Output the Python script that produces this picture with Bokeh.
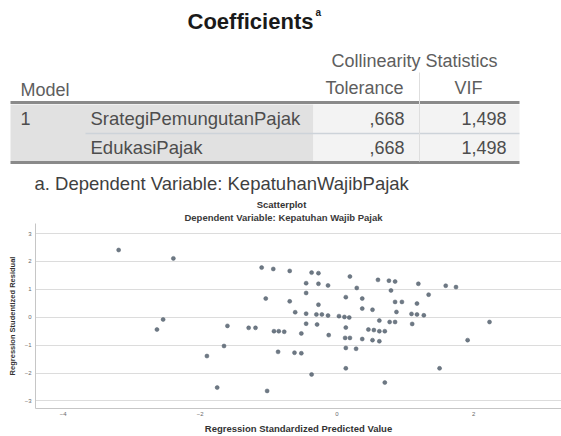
from bokeh.plotting import figure
from bokeh.layouts import column
from bokeh.models import Range1d, FixedTicker
from bokeh.core.properties import value
from bokeh.embed import file_html
from bokeh.resources import INLINE

# ---------------- data ----------------
table_title = "Coefficients"
table_title_sup = "a"
group_header = "Collinearity Statistics"
model_header = "Model"
col_headers = ["Tolerance", "VIF"]
model_number = "1"
predictors = ["SrategiPemungutanPajak", "EdukasiPajak"]
tolerance = [",668", ",668"]
vif = ["1,498", "1,498"]
footnote = "a. Dependent Variable: KepatuhanWajibPajak"

chart_title = "Scatterplot"
chart_subtitle = "Dependent Variable: Kepatuhan Wajib Pajak"
x_label = "Regression Standardized Predicted Value"
y_label = "Regression Studentized Residual"
x_ticks = [-4, -2, 0, 2]
y_ticks = [-3, -2, -1, 0, 1, 2, 3]

pred = [-3.19, -2.39, -2.54, -2.63, -1.90, -1.75, -1.65, -1.60, -1.29, -1.19,
        -1.10, -1.04, -1.02, -0.93, -0.92, -0.85, -0.77, -0.86, -0.69, -0.69,
        -0.61, -0.62, -0.52, -0.52, -0.45, -0.45, -0.45, -0.45, -0.37, -0.37,
        -0.27, -0.27, -0.27, -0.30, -0.22, -0.13, -0.29, -0.13, -0.12, 0.03,
        0.11, 0.18, 0.13, 0.13, 0.12, 0.19, 0.13, 0.13, 0.19, 0.28,
        0.29, 0.37, 0.37, 0.37, 0.52, 0.46, 0.54, 0.62, 0.70, 0.52,
        0.62, 0.60, 0.62, 0.70, 0.76, 0.85, 0.79, 0.77, 0.85, 0.85,
        0.95, 0.87, 1.10, 1.09, 1.17, 1.27, 1.17, 1.19, 1.34, 1.50,
        1.59, 1.74, 1.91, 2.23]
resid = [2.41, 2.11, -0.08, -0.44, -1.39, -2.52, -1.03, -0.31, -0.38, -0.38,
         1.78, 0.67, -2.64, 1.73, -0.50, -0.50, -0.52, -1.24, 1.66, 0.57,
         0.18, -1.27, -1.29, -0.58, 1.22, 0.87, 0.13, -0.23, -2.05, 1.60,
         1.58, 1.20, 0.45, 0.10, 0.10, 0.06, -0.26, 1.14, -0.64, 0.04,
         0.01, -0.01, 0.72, -0.37, -0.74, -0.74, -1.10, -1.83, 1.46, -1.13,
         1.05, 0.67, 0.31, -0.78, 0.27, -0.44, -0.46, -0.50, -0.50, -0.82,
         -0.86, 1.34, -0.12, -2.34, 1.31, 1.28, 0.96, -0.17, -0.17, 0.55,
         0.55, 0.19, -0.24, 0.12, 0.10, 0.07, 0.49, 1.20, 0.81, -1.83,
         1.13, 1.08, -0.82, -0.17]

# ---------------- styles / layout ----------------
FONT = value("Liberation Sans")
W = 561
TXT = "#4d4d4d"
HDR = "#5e5e5e"
FS = "18px"

# ---------------- table figure (page pixel coordinates) ----------------
pa = figure(width=W, height=223, x_range=Range1d(0, 561), y_range=Range1d(223, 0),
            output_backend="svg", toolbar_location=None, min_border=0,
            min_border_left=0, min_border_right=0, min_border_top=0, min_border_bottom=0,
            x_axis_type=None, y_axis_type=None)
pa.frame_align = False
pa.grid.visible = False
pa.outline_line_color = None
pa.background_fill_color = "white"
pa.border_fill_color = "white"

# cell shading
pa.quad(left=[10], right=[313], top=[104], bottom=[161], color="#e1e1e1", line_color=None)
pa.quad(left=[313], right=[519], top=[104], bottom=[161], color="#f3f3f3", line_color=None)
# rules
pa.segment(x0=[10, 10], y0=[102, 162], x1=[519, 519], y1=[102, 162],
           line_color="#8a8a8a", line_width=3)
pa.segment(x0=[85], y0=[133], x1=[519], y1=[133], line_color="#cdd3d9", line_width=1.5)
pa.segment(x0=[419], y0=[72], x1=[419], y1=[161], line_color="#dedede", line_width=1)

# title
pa.text(x=[250], y=[21], text=[table_title], text_font=FONT, text_font_style="bold",
        text_font_size="22px", text_color="#1a1a1a", text_align="center", text_baseline="middle")
pa.text(x=[315], y=[12], text=[table_title_sup], text_font=FONT, text_font_style="bold",
        text_font_size="10px", text_color="#1a1a1a", text_align="left", text_baseline="middle")
# headers
pa.text(x=[414], y=[60], text=[group_header], text_font=FONT, text_font_size=FS,
        text_color=HDR, text_align="center", text_baseline="middle")
pa.text(x=[20], y=[89], text=[model_header], text_font=FONT, text_font_size=FS,
        text_color=HDR, text_align="left", text_baseline="middle")
pa.text(x=[403], y=[87], text=[col_headers[0]], text_font=FONT, text_font_size=FS,
        text_color=HDR, text_align="right", text_baseline="middle")
pa.text(x=[468], y=[87], text=[col_headers[1]], text_font=FONT, text_font_size=FS,
        text_color=HDR, text_align="center", text_baseline="middle")
# rows
row_y = [118, 147]
pa.text(x=[20], y=[row_y[0]], text=[model_number], text_font=FONT, text_font_size=FS,
        text_color=TXT, text_align="left", text_baseline="middle")
pa.text(x=[90] * len(predictors), y=row_y, text=predictors, text_font=FONT,
        text_font_size="18.5px", text_color=TXT, text_align="left", text_baseline="middle")
pa.text(x=[404] * len(tolerance), y=row_y, text=tolerance, text_font=FONT,
        text_font_size=FS, text_color=TXT, text_align="right", text_baseline="middle")
pa.text(x=[506] * len(vif), y=row_y, text=vif, text_font=FONT,
        text_font_size=FS, text_color=TXT, text_align="right", text_baseline="middle")
# footnote
pa.text(x=[34], y=[183], text=[footnote], text_font=FONT, text_font_size="18.5px",
        text_color="#3f3f3f", text_align="left", text_baseline="middle")
# scatter titles
pa.text(x=[281], y=[203.5], text=[chart_title], text_font=FONT, text_font_style="bold",
        text_font_size="9.5px", text_color="#333333", text_align="center", text_baseline="middle")
pa.text(x=[283], y=[217], text=[chart_subtitle], text_font=FONT, text_font_style="bold",
        text_font_size="9.5px", text_color="#3a3a3a", text_align="center", text_baseline="middle")

# ---------------- scatter figure ----------------
pb = figure(width=W, height=213, x_range=Range1d(-4.405, 3.282), y_range=Range1d(-3.27, 3.36),
            output_backend="svg", toolbar_location=None,
            min_border_left=35, min_border_right=0, min_border_top=0, min_border_bottom=26)
pb.frame_align = False
pb.outline_line_color = None
pb.background_fill_color = "white"
pb.border_fill_color = "white"
pb.xgrid.visible = False
pb.ygrid.grid_line_color = "#dcdcdc"
pb.ygrid.grid_line_width = 1

pb.xaxis.ticker = FixedTicker(ticks=x_ticks)
pb.yaxis.ticker = FixedTicker(ticks=y_ticks)
pb.xaxis.axis_label = x_label
pb.yaxis.axis_label = y_label
for ax in (pb.xaxis[0], pb.yaxis[0]):
    ax.axis_line_color = "#c6c6c6"
    ax.major_tick_out = 0
    ax.major_tick_in = 0
    ax.minor_tick_out = 0
    ax.minor_tick_in = 0
    ax.major_label_text_font = "Liberation Sans"
    ax.major_label_text_font_size = "6px"
    ax.major_label_text_color = "#6a6a6a"
    ax.axis_label_text_font = "Liberation Sans"
    ax.axis_label_text_font_style = "bold"
    ax.axis_label_text_color = "#333333"
pb.xaxis.major_label_standoff = 3
pb.xaxis.axis_label_standoff = 4
pb.xaxis.axis_label_text_font_size = "9.5px"
pb.yaxis.major_label_standoff = 4
pb.yaxis.axis_label_standoff = 5
pb.yaxis.axis_label_text_font_size = "7.5px"

pb.scatter(pred, resid, size=4, fill_color="#55626f", line_color="#55626f",
           fill_alpha=0.85, line_alpha=0.5)

layout = column(pa, pb, spacing=0)
open("out.html", "w").write(file_html(layout, INLINE))
